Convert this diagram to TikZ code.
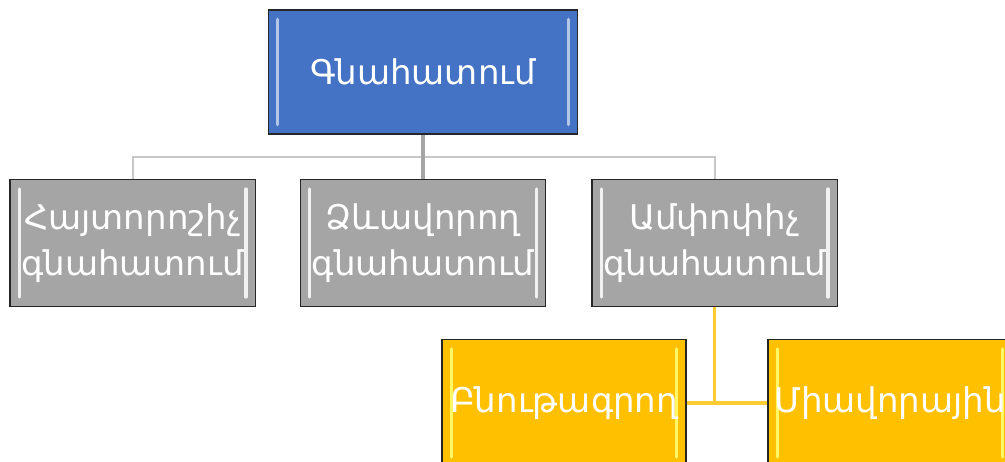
\documentclass[tikz,border=0pt]{standalone}
\usepackage{fontspec}
\newfontfamily\armfont{DejaVu Sans}
\definecolor{evalblue}{HTML}{4472C4}
\definecolor{kindgray}{HTML}{A5A5A5}
\definecolor{subyellow}{HTML}{FFC000}
\definecolor{linegray}{HTML}{C8C8C8}
\begin{document}
\begin{tikzpicture}
	[x=0.75pt, y=-0.75pt,
	every node/.style={rectangle,draw=black!85,line width=1pt,text=white,align=center,
		font=\armfont\fontsize{25.5}{35}\selectfont,inner sep=0pt},
	bevel/.style={path picture={
		\draw[#1,line width=2.5pt,line cap=round]
			([xshift=7pt,yshift=-7pt]path picture bounding box.north west) --
			([xshift=7pt,yshift=7pt]path picture bounding box.south west);
		\draw[#1,line width=2.5pt,line cap=round]
			([xshift=-7pt,yshift=-7pt]path picture bounding box.north east) --
			([xshift=-7pt,yshift=7pt]path picture bounding box.south east);}},
	topbox/.style={fill=evalblue,bevel=evalblue!40!white,minimum width=232pt,minimum height=93pt},
	kindbox/.style={fill=kindgray,bevel=white!85!kindgray,minimum width=184pt,minimum height=95pt},
	subbox/.style={fill=subyellow,bevel=yellow!60!white,minimum width=183pt,minimum height=95pt}]
	\useasboundingbox (0,0) rectangle (1005,461);
	\clip (0,0) rectangle (1005,461);
	\node (eval) [topbox] at (423,72) {Գնահատում};
	\node (diag) [kindbox] at (132.5,243) {Հայտորոշիչ\\գնահատում};
	\node (form) [kindbox] at (423,243) {Ձևավորող\\գնահատում};
	\node (summ) [kindbox] at (714.5,243) {Ամփոփիչ\\գնահատում};
	\node (char) [subbox] at (564,403) {Բնութագրող};
	\node (unit) [subbox] at (890,403) {Միավորային};
	\coordinate (bus) at (423,157);
	\draw [linegray,line width=1.5pt] (diag.north) |- (bus) -| (summ.north);
	\draw [kindgray,line width=2.5pt] (eval.south) -- (form.north);
	\draw [subyellow!80!white,line width=2.5pt] (summ.south) |- (char.east);
	\draw [subyellow!80!white,line width=2.5pt] (summ.south) |- (unit.west);
\end{tikzpicture}
\end{document}
